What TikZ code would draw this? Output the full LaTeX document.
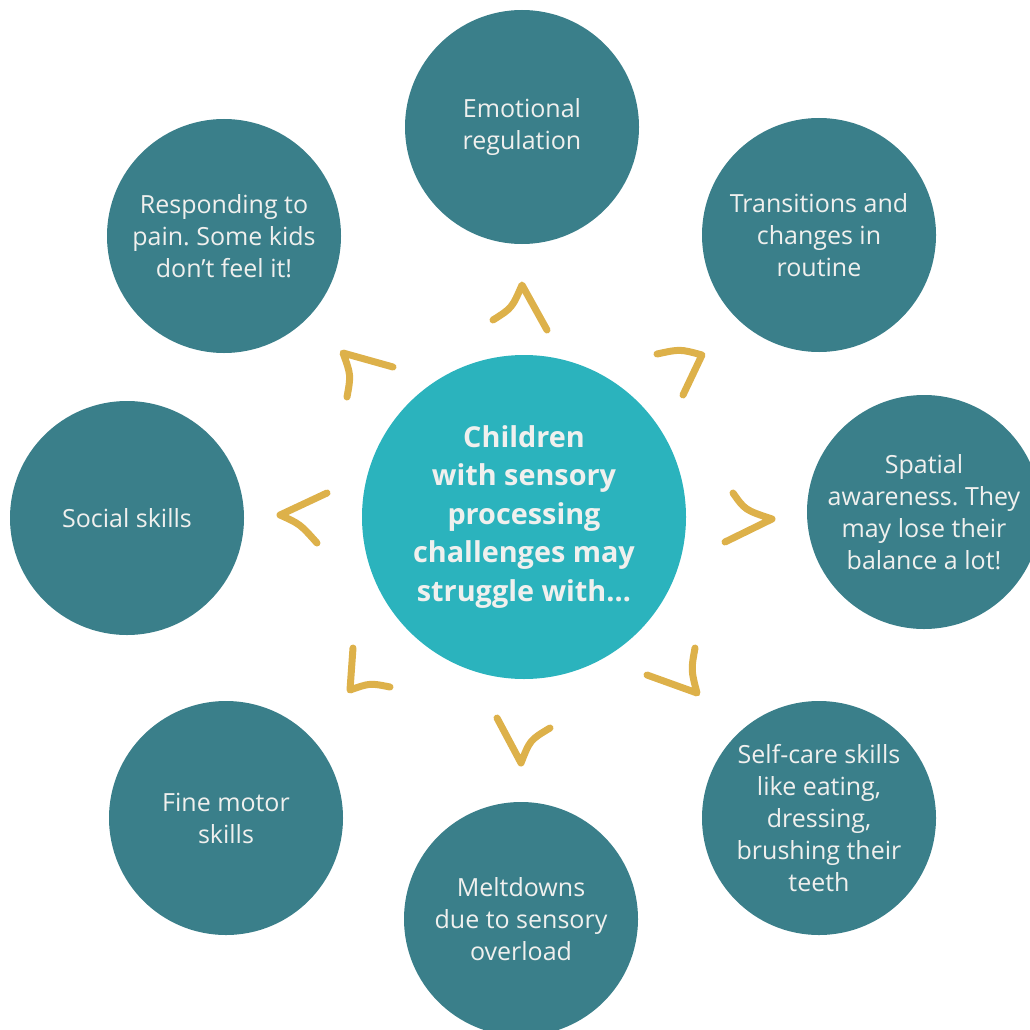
\documentclass[tikz,border=0pt]{standalone}
\usepackage{fontspec}
\setmainfont{Open Sans}
\frenchspacing
\definecolor{petrol}{HTML}{3A7F8A}
\definecolor{lagoon}{HTML}{2BB3BD}
\definecolor{mustard}{HTML}{DDB14A}
\definecolor{chalk}{HTML}{F0F0EE}
\begin{document}
\begin{tikzpicture}[
    x=1pt, y=-1pt,
    topic/.style={circle,fill=petrol,minimum size=234pt,inner sep=0pt,
      align=center,text=chalk,font=\fontsize{25}{32}\selectfont},
    hub/.style={circle,fill=lagoon,minimum size=324pt,inner sep=0pt,
      align=center,text=chalk,font=\bfseries\fontsize{28.8}{38.5}\selectfont},
    chevron/.style={draw=mustard,line width=7pt,line cap=round,line join=round}
  ]
  \useasboundingbox (0,0) rectangle (1030,1030);
  \node[hub] (core) at (524,517) {Children\\with sensory\\processing\\challenges may\\struggle with…};
  \node[topic] (emotion) at (522,127) {Emotional\\regulation};
  \node[topic] (routine) at (819,235) {Transitions and\\changes in\\routine};
  \node[topic] (spatial) at (924,512) {Spatial\\awareness. They\\may lose their\\balance a lot!};
  \node[topic] (selfcare) at (819,818) {Self-care skills\\like eating,\\dressing,\\brushing their\\teeth};
  \node[topic] (meltdown) at (521,919) {Meltdowns\\due to sensory\\overload};
  \node[topic] (finemotor) at (226,818) {Fine motor\\skills};
  \node[topic] (social) at (127,518) {Social skills};
  \node[topic] (pain) at (224,236) {Responding to\\pain. Some kids\\don’t feel it!};
  % hand drawn chevrons
  \draw[chevron] (493,320) .. controls (512,308) .. (522,285) -- (547,330);
  \draw[chevron] (657,354) .. controls (680,349) .. (702,355) -- (683,395);
  \draw[chevron] (733,493) .. controls (745,510) .. (772,519) -- (725,542);
  \draw[chevron] (695,648) .. controls (691,670) .. (697,693) -- (647,675);
  \draw[chevron] (497,718) -- (521,763) .. controls (530,740) .. (550,728);
  \draw[chevron] (353,648) -- (350,690) .. controls (370,683) .. (390,687);
  \draw[chevron] (327,493) -- (280,515) .. controls (300,524) .. (317,543);
  \draw[chevron] (393,367) -- (343,353) .. controls (351,375) .. (347,397);
\end{tikzpicture}
\end{document}
